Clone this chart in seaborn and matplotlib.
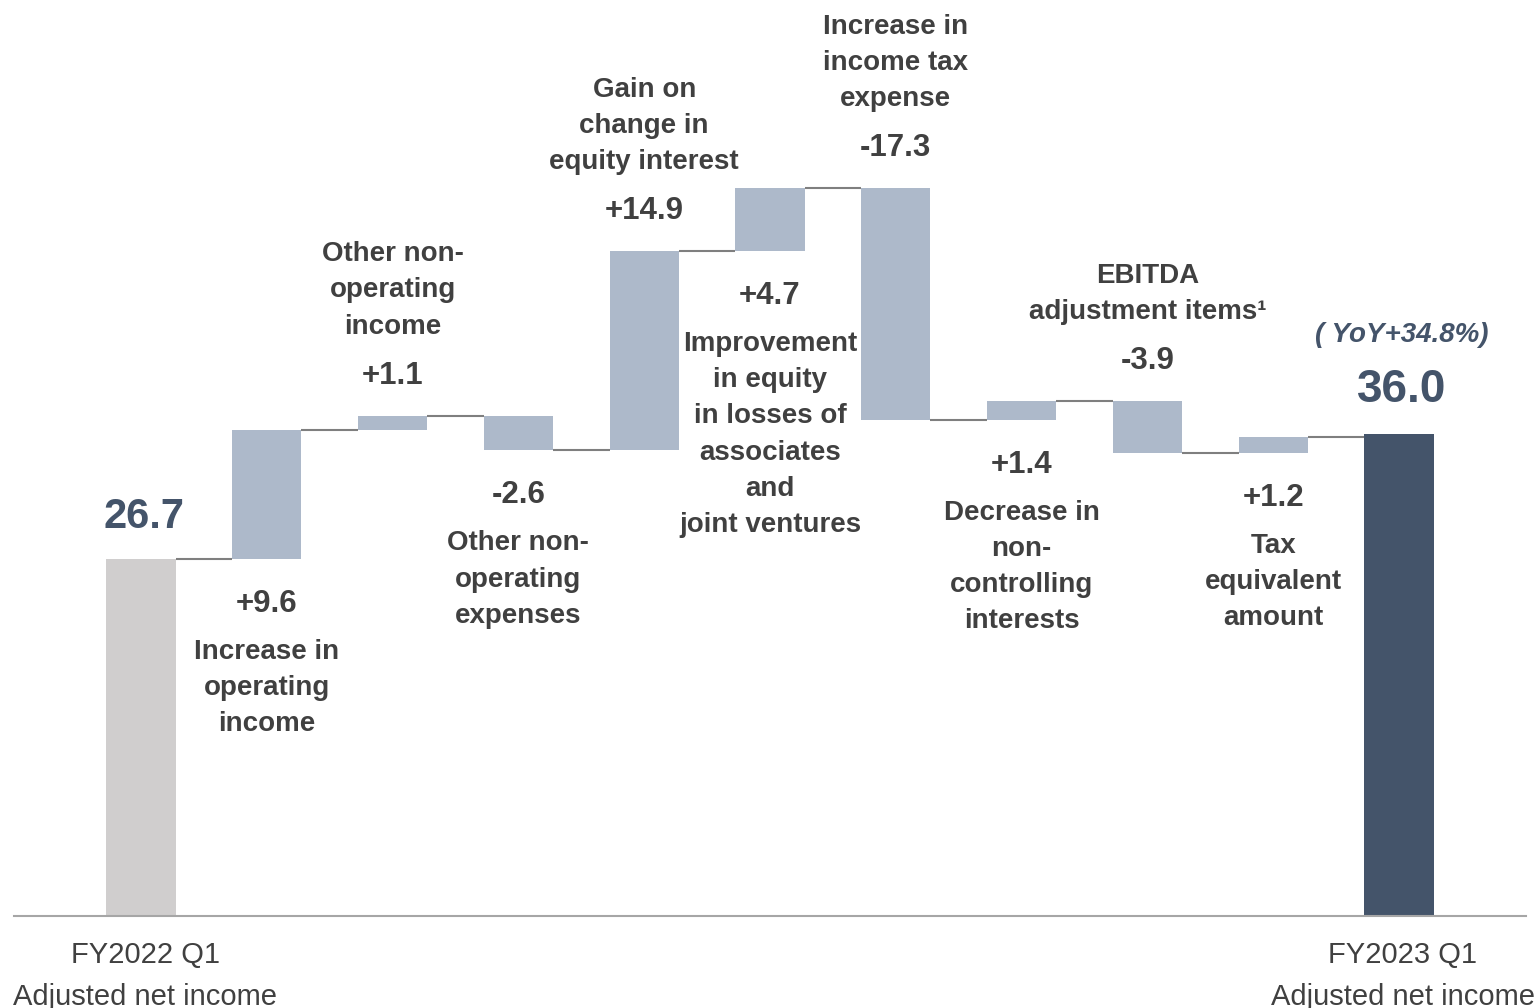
import numpy as np
import pandas as pd
import matplotlib
matplotlib.use("Agg")
import matplotlib.pyplot as plt
import seaborn as sns

# ---- data -------------------------------------------------------------
start_value = 26.7
end_value = 36.0
step_keys = ["op_income", "nonop_income", "nonop_expenses", "equity_gain",
             "equity_losses", "income_tax", "noncontrolling", "ebitda_adj",
             "tax_equiv"]
deltas = [9.6, 1.1, -2.6, 14.9, 4.7, -17.3, 1.4, -3.9, 1.2]
delta_labels = ["+9.6", "+1.1", "-2.6", "+14.9", "+4.7", "-17.3", "+1.4", "-3.9", "+1.2"]
descriptions = [
    "Increase in\noperating\nincome",
    "Other non-\noperating\nincome",
    "Other non-\noperating\nexpenses",
    "Gain on\nchange in\nequity interest",
    "Improvement\nin equity\nin losses of\nassociates\nand\njoint ventures",
    "Increase in\nincome tax\nexpense",
    "Decrease in\nnon-\ncontrolling\ninterests",
    "EBITDA\nadjustment items\u00b9",
    "Tax\nequivalent\namount",
]
label_sides = ["below", "above", "below", "above", "below", "above", "below", "above", "below"]
end_labels = ["FY2022 Q1\nAdjusted net income", "FY2023 Q1\nAdjusted net income"]
start_label = "26.7"
end_label = "36.0"
yoy_text = "( YoY+34.8%)"

# ---- colours ----------------------------------------------------------
C_START = "#d0cece"
C_STEP = "#adb9ca"
C_END = "#44546a"
C_TEXT = "#404040"
C_LINE = "#7f7f7f"

# ---- waterfall geometry ----------------------------------------------
levels = start_value + np.cumsum(deltas)
prev_levels = np.concatenate([[start_value], levels[:-1]])
keys = ["start"] + step_keys + ["end"]
heights = [start_value] + list(np.abs(deltas)) + [end_value]
bottoms = [0.0] + list(np.minimum(prev_levels, levels)) + [0.0]
tops = [b + h for b, h in zip(bottoms, heights)]
colors = [C_START] + [C_STEP] * len(deltas) + [C_END]

df = pd.DataFrame({"key": keys, "height": heights})

sns.set_theme(style="white")
plt.rcParams["font.family"] = ["Liberation Sans", "DejaVu Sans"]

fig = plt.figure(figsize=(15.36, 10.08), dpi=100)
ax = fig.add_axes([14 / 1536, 92 / 1008, 1512 / 1536, 916 / 1008])

bar_w = 0.55
sns.barplot(data=df, x="key", y="height", order=keys, bottom=bottoms,
            width=bar_w, color=C_STEP, errorbar=None, linewidth=0, ax=ax)
for patch, c in zip(ax.patches, colors):
    patch.set_facecolor(c)
    patch.set_edgecolor("none")

# connectors between consecutive bars
run_levels = [start_value] + list(levels)
for i, lv in enumerate(run_levels):
    ax.plot([i + bar_w / 2, i + 1 - bar_w / 2], [lv, lv], color=C_LINE, lw=1.5,
            solid_capstyle="butt", zorder=1)

ax.set_xlim(-1.01, 11.01)
ax.set_ylim(0, 68.46)

# step labels
for i, (lab, desc, side) in enumerate(zip(delta_labels, descriptions, label_sides), start=1):
    if side == "above":
        anchor, s, v_off, d_off = tops[i], 1, 40, 76
    else:
        anchor, s, v_off, d_off = bottoms[i], -1, 45, 80
    ax.annotate(lab, (i, anchor), xytext=(0, s * v_off), textcoords="offset pixels",
                ha="center", va="center", fontsize=22.5, fontweight="bold", color=C_TEXT)
    ax.annotate(desc, (i, anchor), xytext=(0, s * d_off), textcoords="offset pixels",
                ha="center", va="bottom" if s > 0 else "top", fontsize=20,
                fontweight="bold", color=C_TEXT, linespacing=1.51)

# totals
ax.annotate(start_label, (0, tops[0]), xytext=(3, 42), textcoords="offset pixels",
            ha="center", va="center", fontsize=30, fontweight="bold", color=C_END)
ax.annotate(end_label, (10, tops[-1]), xytext=(3, 44), textcoords="offset pixels",
            ha="center", va="center", fontsize=33, fontweight="bold", color=C_END)
ax.annotate(yoy_text, (10, tops[-1]), xytext=(3, 99), textcoords="offset pixels",
            ha="center", va="center", fontsize=20, fontweight="bold", style="italic",
            color=C_END)

# axes styling: the two period labels sit slightly right of the bar centres
ax.set_xticks([0.032, 10.032])
ax.set_xticklabels(end_labels, fontsize=21, color=C_TEXT, linespacing=1.62)
ax.tick_params(axis="x", length=0, pad=18)
ax.set_yticks([])
ax.set_xlabel("")
ax.set_ylabel("")
for sp in ["top", "left", "right"]:
    ax.spines[sp].set_visible(False)
ax.spines["bottom"].set_color("#a6a6a6")
ax.spines["bottom"].set_linewidth(1.5)

fig.savefig("out.png", dpi=100, facecolor="white")
